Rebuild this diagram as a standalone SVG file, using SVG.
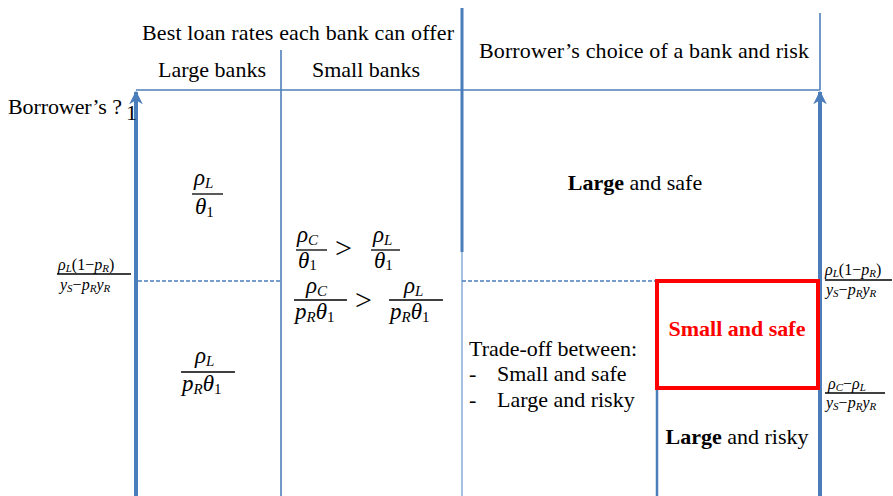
<svg xmlns="http://www.w3.org/2000/svg" width="893" height="496" viewBox="0 0 893 496">
<style>
.t{font-family:"Liberation Serif","Times New Roman",serif;font-size:22px;fill:#000}
.m{font-family:"Liberation Serif","Times New Roman",serif;font-style:italic;font-size:23px;fill:#000}
.ms{font-family:"Liberation Serif","Times New Roman",serif;font-style:italic;font-size:16px;fill:#000}
.s{font-size:15px}
.s2{font-size:11px}
.u{font-style:normal}
.gt{font-family:"Liberation Serif","Times New Roman",serif;font-size:30px;fill:#000}
.thin{stroke:#4f7fba;stroke-width:1.6;fill:none}
.thick{stroke:#4a7dba;stroke-width:4;fill:none}
.dash{stroke:#4a7dba;stroke-width:1.6;stroke-dasharray:4 2;fill:none}
.fl{stroke:#000;stroke-width:1.3}
</style>
<defs>
<marker id="ah" viewBox="0 0 10 10" refX="9" refY="5" markerWidth="3.4" markerHeight="3.4" orient="auto">
<path d="M0,0 L10,5 L0,10 L3,5 z" fill="#4a7dba"/>
</marker>
</defs>
<rect width="893" height="496" fill="#fff"/>
<g id="connectors">
<line class="thin" x1="136" y1="90" x2="820" y2="90"/>
<line class="thin" x1="281" y1="50" x2="281" y2="496"/>
<line x1="462" y1="8" x2="462" y2="252" stroke="#4a7dba" stroke-width="3"/>
<line x1="462" y1="252" x2="462" y2="496" stroke="#8fb0d6" stroke-width="1.6"/>
<line class="thin" x1="820" y1="13" x2="820" y2="90"/>
<line class="thick" x1="136" y1="496" x2="136" y2="92" marker-end="url(#ah)"/>
<line class="thick" x1="820" y1="496" x2="820" y2="92" marker-end="url(#ah)"/>
<line class="dash" x1="138" y1="281" x2="281" y2="281"/>
<line class="dash" x1="462" y1="281" x2="656" y2="281"/>
<line x1="657" y1="389" x2="657" y2="496" stroke="#4a7dba" stroke-width="2.5"/>
</g>
<g id="headers">
<text class="t" x="298" y="40" text-anchor="middle" textLength="312">Best loan rates each bank can offer</text>
<text class="t" x="212" y="77" text-anchor="middle" textLength="108">Large banks</text>
<text class="t" x="366" y="77" text-anchor="middle" textLength="108">Small banks</text>
<text class="t" x="644" y="58" text-anchor="middle" textLength="330">Borrower’s choice of a bank and risk</text>
<text class="t" x="8" y="114" textLength="114">Borrower’s ?</text>
<text class="t" x="126" y="120" font-size="14">1</text>
</g>
<g id="large-top">
<text class="m" x="194" y="185">ρ<tspan class="s" dy="3">L</tspan></text>
<line class="fl" x1="192" y1="194" x2="223" y2="194"/>
<text class="m" x="195" y="214">θ<tspan class="s u" dy="3">1</tspan></text>
</g>
<g id="large-bottom">
<text class="m" x="195" y="363">ρ<tspan class="s" dy="3">L</tspan></text>
<line class="fl" x1="181" y1="372" x2="235" y2="372"/>
<text class="m" x="182" y="391">p<tspan class="s" dy="3">R</tspan><tspan dy="-3">θ</tspan><tspan class="s u" dy="3">1</tspan></text>
</g>
<g id="small-top">
<text class="m" x="297" y="242">ρ<tspan class="s" dy="3">C</tspan></text>
<line class="fl" x1="296" y1="250" x2="327" y2="250"/>
<text class="m" x="298" y="268">θ<tspan class="s u" dy="2">1</tspan></text>
<text class="gt" x="335" y="258">&gt;</text>
<text class="m" x="373" y="242">ρ<tspan class="s" dy="3">L</tspan></text>
<line class="fl" x1="371" y1="250" x2="400" y2="250"/>
<text class="m" x="374" y="268">θ<tspan class="s u" dy="2">1</tspan></text>
</g>
<g id="small-bottom">
<text class="m" x="306" y="293">ρ<tspan class="s" dy="3">C</tspan></text>
<line class="fl" x1="294" y1="300" x2="347" y2="300"/>
<text class="m" x="295" y="319">p<tspan class="s" dy="3">R</tspan><tspan dy="-3">θ</tspan><tspan class="s u" dy="3">1</tspan></text>
<text class="gt" x="355" y="310">&gt;</text>
<text class="m" x="404" y="293">ρ<tspan class="s" dy="3">L</tspan></text>
<line class="fl" x1="389" y1="300" x2="443" y2="300"/>
<text class="m" x="390" y="319">p<tspan class="s" dy="3">R</tspan><tspan dy="-3">θ</tspan><tspan class="s u" dy="3">1</tspan></text>
</g>
<g id="axis-left">
<text class="ms" x="58" y="270">ρ<tspan class="s2" dy="2">L</tspan><tspan class="u" dy="-2">(1−</tspan>p<tspan class="s2" dy="2">R</tspan><tspan class="u" dy="-2">)</tspan></text>
<line class="fl" x1="57" y1="274" x2="131" y2="274" stroke-width="1"/>
<text class="ms" x="60" y="290">y<tspan class="s2" dy="2">S</tspan><tspan class="u" dy="-2">−</tspan>p<tspan class="s2" dy="2">R</tspan><tspan dy="-2">y</tspan><tspan class="s2" dy="2">R</tspan></text>
</g>
<g id="axis-right-top">
<text class="ms" x="825" y="275">ρ<tspan class="s2" dy="2">L</tspan><tspan class="u" dy="-2">(1−</tspan>p<tspan class="s2" dy="2">R</tspan><tspan class="u" dy="-2">)</tspan></text>
<line class="fl" x1="825" y1="280" x2="892" y2="280" stroke-width="1"/>
<text class="ms" x="826" y="295">y<tspan class="s2" dy="2">S</tspan><tspan class="u" dy="-2">−</tspan>p<tspan class="s2" dy="2">R</tspan><tspan dy="-2">y</tspan><tspan class="s2" dy="2">R</tspan></text>
</g>
<g id="axis-right-bottom">
<text class="ms" x="828" y="389">ρ<tspan class="s2" dy="2">C</tspan><tspan class="u" dy="-2">−</tspan>ρ<tspan class="s2" dy="2">L</tspan></text>
<line class="fl" x1="825" y1="393" x2="885" y2="393" stroke-width="1"/>
<text class="ms" x="826" y="408">y<tspan class="s2" dy="2">S</tspan><tspan class="u" dy="-2">−</tspan>p<tspan class="s2" dy="2">R</tspan><tspan dy="-2">y</tspan><tspan class="s2" dy="2">R</tspan></text>
</g>
<g id="large-safe">
<text class="t" x="635" y="190" text-anchor="middle"><tspan font-weight="bold">Large</tspan> and safe</text>
</g>
<g id="small-safe">
<rect x="657" y="281" width="161" height="107" fill="none" stroke="#ff0000" stroke-width="4"/>
<text class="t" x="737" y="336" text-anchor="middle" font-weight="bold" style="fill:#ff0000">Small and safe</text>
</g>
<g id="large-risky">
<text class="t" x="737" y="444" text-anchor="middle"><tspan font-weight="bold">Large</tspan> and risky</text>
</g>
<g id="tradeoff">
<text class="t" x="469" y="356">Trade-off between:</text>
<text class="t" x="469" y="381">-</text>
<text class="t" x="497" y="381">Small and safe</text>
<text class="t" x="469" y="407">-</text>
<text class="t" x="497" y="407">Large and risky</text>
</g>
</svg>
